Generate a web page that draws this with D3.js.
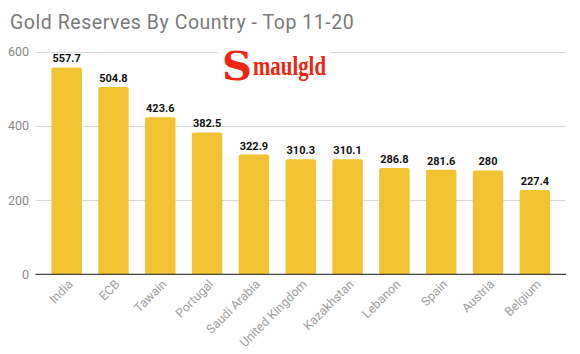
<!DOCTYPE html>
<html>
<head>
<meta charset="utf-8">
<script src="https://cdn.jsdelivr.net/npm/d3@7"></script>
<style>
  body { margin: 0; background: #fff; }
  svg { display: block; font-family: Roboto, "Noto Sans", Arial, sans-serif; }
</style>
</head>
<body>
<svg id="chart" width="580" height="354"></svg>
<script>
var countries = ["India", "ECB", "Tawain", "Portugal", "Saudi Arabia", "United Kingdom",
                 "Kazakhstan", "Lebanon", "Spain", "Austria", "Belgium"];
var tonnes = [557.7, 504.8, 423.6, 382.5, 322.9, 310.3, 310.1, 286.8, 281.6, 280, 227.4];
var yTicks = [0, 200, 400, 600];

document.addEventListener('DOMContentLoaded', function() {
  drawChart();
});

function drawChart() {
  var svg = d3.select('#chart');
  var left = 35.5, right = 566, top = 51.7, bottom = 274.3;

  var x = d3.scaleBand()
      .domain(countries)
      .range([left, right])
      .paddingInner(0.35)
      .paddingOuter(0.34);

  var y = d3.scaleLinear()
      .domain([0, 600])
      .range([bottom, top]);

  // title
  svg.append("text")
      .attr("x", 10)
      .attr("y", 29)
      .attr("fill", "#7a7a7a")
      .attr("font-size", 19.5)
      .attr("letter-spacing", 0.55)
      .text("Gold Reserves By Country - Top 11-20");

  // gridlines
  svg.append("g")
    .selectAll("line")
      .data(yTicks.filter(function(d) { return d > 0; }))
      .enter()
      .append("line")
      .attr("x1", left)
      .attr("x2", right)
      .attr("y1", function(d) { return Math.round(y(d)) + 0.5; })
      .attr("y2", function(d) { return Math.round(y(d)) + 0.5; })
      .attr("stroke", "#d9d9d9");

  // y tick labels
  svg.append("g")
    .selectAll("text")
      .data(yTicks)
      .enter()
      .append("text")
      .attr("x", 29)
      .attr("y", function(d) { return y(d) + 4.5; })
      .attr("text-anchor", "end")
      .attr("fill", "#8a8a8a")
      .attr("font-size", 12.5)
      .text(function(d) { return d; });

  // logo (white patch hides the gridline behind it)
  var logo = svg.append("g").attr("transform", "translate(222,0)");
  logo.append("rect")
      .attr("x", -4).attr("y", 44).attr("width", 112).attr("height", 38)
      .attr("fill", "#fff");
  logo.append("text")
      .attr("x", 0).attr("y", 80)
      .attr("fill", "#f0250f")
      .attr("font-family", "'DejaVu Serif', 'Liberation Serif', serif")
      .attr("font-weight", "bold")
      .attr("font-size", 40)
      .attr("textLength", 30)
      .attr("lengthAdjust", "spacingAndGlyphs")
      .text("S");
  logo.append("text")
      .attr("x", 31).attr("y", 75)
      .attr("fill", "#f0250f")
      .attr("font-family", "'Liberation Serif', 'DejaVu Serif', serif")
      .attr("font-weight", "bold")
      .attr("font-size", 27)
      .attr("textLength", 73)
      .attr("lengthAdjust", "spacingAndGlyphs")
      .text("maulgld");

  // bars
  svg.append("g")
    .selectAll("path")
      .data(countries)
      .enter()
      .append("path")
      .attr("fill", "#f1c232")
      .attr("d", function(d, i) {
        var x0 = x(d), w = x.bandwidth(), y0 = y(tonnes[i]), r = 2;
        return "M" + x0 + "," + bottom +
               "V" + (y0 + r) + "Q" + x0 + "," + y0 + " " + (x0 + r) + "," + y0 +
               "H" + (x0 + w - r) + "Q" + (x0 + w) + "," + y0 + " " + (x0 + w) + "," + (y0 + r) +
               "V" + bottom + "Z";
      });

  // value labels
  svg.append("g")
    .selectAll("text")
      .data(countries)
      .enter()
      .append("text")
      .attr("x", function(d) { return x(d) + x.bandwidth() / 2; })
      .attr("y", function(d, i) { return y(tonnes[i]) - 5; })
      .attr("text-anchor", "middle")
      .attr("font-weight", "bold")
      .attr("font-size", 11)
      .attr("fill", "#111")
      .text(function(d, i) { return tonnes[i]; });

  // baseline
  svg.append("line")
      .attr("x1", left).attr("x2", right)
      .attr("y1", bottom).attr("y2", bottom)
      .attr("stroke", "#444")
      .attr("stroke-width", 1.2);

  // x labels
  svg.append("g")
    .selectAll("text")
      .data(countries)
      .enter()
      .append("text")
      .attr("transform", function(d) {
        return "translate(" + (x(d) + x.bandwidth() / 2 + 7) + ",285) rotate(-45)";
      })
      .attr("text-anchor", "end")
      .attr("fill", "#a0a0a0")
      .attr("font-size", 12.5)
      .text(function(d) { return d; });
}
</script>
</body>
</html>
